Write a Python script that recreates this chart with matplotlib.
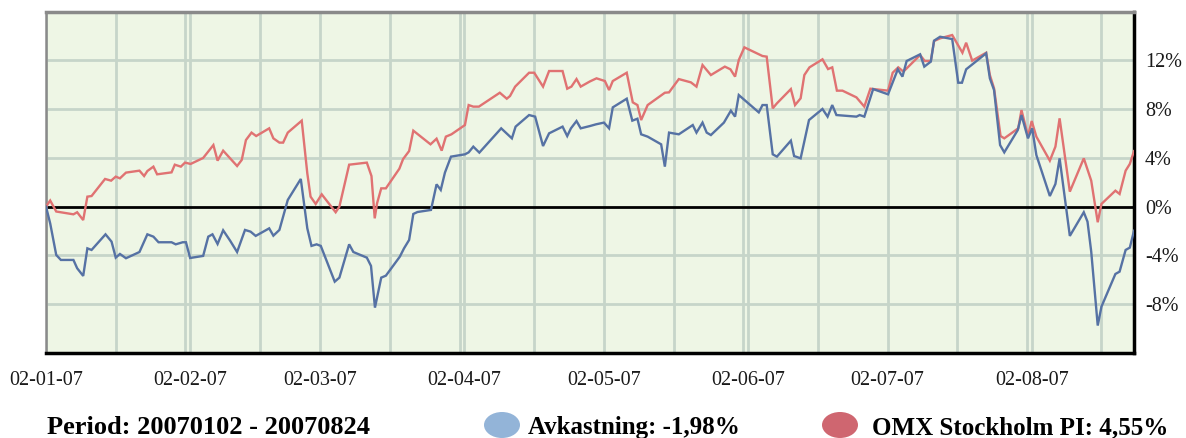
import matplotlib
matplotlib.use("Agg")
import matplotlib.pyplot as plt
import matplotlib.dates as mdates
from matplotlib.patches import Ellipse
import numpy as np
from datetime import datetime

# ---- data (days since 2007-01-02, value in %) ----
start_date = "2007-01-02"
omx_days = [0.0, 0.9, 2.2, 5.9, 6.7, 8.0, 8.9, 9.8, 12.7, 14.0, 15.0, 15.9, 17.2, 20.1, 21.1, 21.8,
            23.1, 23.9, 27.0, 27.7, 29.0, 29.9, 31.1, 33.8, 36.0, 36.9, 38.1, 41.1, 42.1, 43.0, 44.2,
            45.2, 48.0, 48.9, 50.2, 51.0, 52.0, 55.0, 56.2, 56.9, 58.0, 59.3, 62.3, 63.1, 65.2, 69.0,
            70.0, 70.7, 71.2, 72.1, 73.1, 76.0, 76.8, 78.1, 79.0, 82.7, 84.0, 85.1, 86.0, 87.2, 90.1,
            90.9, 91.9, 93.1, 97.6, 99.1, 99.8, 100.9, 103.9, 105.0, 106.9, 108.2, 111.1, 112.1, 113.0,
            114.1, 115.0, 117.0, 118.4, 120.2, 121.1, 121.9, 124.9, 126.2, 127.2, 128.0, 129.4, 133.1,
            134.0, 136.1, 138.7, 139.9, 141.2, 143.0, 146.0, 147.2, 148.2, 149.0, 150.2, 154.1, 155.0,
            156.3, 157.2, 160.2, 161.1, 162.3, 163.1, 164.2, 167.0, 168.2, 169.1, 170.1, 171.3, 174.3,
            176.0, 177.3, 181.1, 182.1, 183.3, 184.4, 188.0, 189.0, 190.3, 191.0, 192.3, 194.9, 197.1,
            197.9, 199.2, 202.2, 203.0, 203.9, 205.3, 206.1, 209.1, 209.8, 211.2, 212.0, 213.0, 215.9,
            217.1, 218.0, 220.2, 223.2, 224.8, 226.2, 227.0, 230.0, 230.9, 232.2, 233.1, 234.0]
omx_vals = [0.0, 0.5, -0.4, -0.63, -0.46, -1.1, 0.82, 0.87, 2.27, 2.13, 2.46, 2.32, 2.79, 2.95, 2.51, 2.92,
            3.28, 2.65, 2.81, 3.44, 3.28, 3.61, 3.5, 3.99, 5.05, 3.77, 4.59, 3.33, 3.83, 5.46, 6.07,
            5.79, 6.42, 5.6, 5.25, 5.25, 6.07, 7.05, 2.73, 0.82, 0.22, 1.01, -0.46, 0.0, 3.44, 3.61,
            2.51, -0.96, 0.27, 1.5, 1.5, 3.11, 3.9, 4.56, 6.23, 5.11, 5.57, 4.59, 5.74, 5.93, 6.69,
            8.33, 8.2, 8.2, 9.34, 8.85, 9.07, 9.84, 10.98, 10.98, 9.84, 11.12, 11.12, 9.67, 9.84,
            10.46, 9.84, 10.27, 10.52, 10.3, 9.56, 10.3, 10.98, 8.55, 8.33, 7.1, 8.33, 9.34,
            9.37, 10.46, 10.19, 9.84, 11.61, 10.79, 11.48, 11.26, 10.66, 12.02, 13.06, 12.35, 12.3,
            8.06, 8.47, 9.64, 8.33, 8.88, 10.79, 11.42, 12.08, 11.28, 11.42, 9.51, 9.51, 8.96,
            8.2, 9.67, 9.51, 10.98, 11.42, 11.07, 12.43, 11.94, 11.94, 13.58, 13.8, 14.07, 12.62,
            13.44, 11.97, 12.62, 10.79, 9.7, 5.79, 5.6, 6.42, 7.92, 5.79, 7.02, 5.74, 3.77,
            4.92, 7.24, 1.23, 3.96, 2.13, -1.28, 0.22, 1.31, 1.04, 2.95, 3.5, 4.55]

avk_days = [0.0, 0.9, 2.2, 3.2, 5.9, 6.7, 8.0, 8.9, 9.8, 12.8, 14.1, 15.0, 15.9, 17.2, 20.1, 21.8,
            23.1, 24.2, 27.0, 27.9, 29.4, 30.1, 31.0, 33.8, 34.9, 35.8, 36.9, 38.1, 39.6, 41.1, 42.8,
            44.0, 45.1, 48.0, 48.9, 50.2, 51.0, 52.0, 54.8, 55.5, 56.2, 57.1, 58.2, 59.1, 62.1, 63.1,
            65.2, 66.1, 69.0, 69.9, 70.75, 72.1, 73.1, 76.1, 77.0, 78.1, 79.0, 79.9, 82.8, 84.0, 84.9,
            85.8, 87.1, 90.1, 90.9, 91.9, 93.2, 97.9, 100.2, 101.0, 103.9, 105.2, 106.9, 108.2, 111.1,
            112.1, 112.9, 114.1, 115.0, 117.0, 118.3, 120.0, 121.1, 121.9, 124.9, 126.1, 127.2, 128.0,
            129.4, 132.3, 133.1, 134.0, 136.1, 139.1, 139.9, 141.2, 142.1, 143.0, 145.8, 147.3, 148.2,
            149.0, 153.3, 154.1, 155.0, 156.3, 157.2, 160.2, 160.9, 162.3, 164.1, 167.0, 168.1, 169.1,
            170.0, 174.3, 175.0, 176.0, 177.9, 181.1, 183.2, 184.2, 185.1, 188.0, 188.9, 190.3, 191.0,
            192.3, 194.9, 196.2, 197.0, 197.9, 202.2, 203.0, 203.9, 205.2, 206.1, 209.0, 209.8, 211.2,
            212.1, 213.0, 215.9, 217.1, 218.0, 220.2, 223.2, 224.0, 224.8, 226.2, 227.0, 230.0, 230.9,
            232.2, 233.1, 234.0]
avk_vals = [0.0, -1.37, -3.96, -4.37, -4.37, -5.05, -5.68, -3.42, -3.55, -2.27, -2.87, -4.18, -3.88, -4.23, -3.72, -2.27,
            -2.46, -2.92, -2.92, -3.09, -2.92, -2.92, -4.21, -4.04, -2.46, -2.27, -3.06, -1.94, -2.79, -3.72, -1.91,
            -2.05, -2.4, -1.78, -2.38, -1.91, -0.82, 0.55, 2.27, 0.27, -1.78, -3.22, -3.09, -3.22, -6.15, -5.82,
            -3.09, -3.72, -4.18, -4.86, -8.28, -5.82, -5.66, -4.1, -3.42, -2.73, -0.6, -0.44, -0.27, 1.83, 1.37,
            2.79, 4.1, 4.29, 4.45, 4.92, 4.43, 6.42, 5.6, 6.56, 7.51, 7.38, 4.97, 6.01, 6.56,
            5.79, 6.42, 7.02, 6.42, 6.61, 6.75, 6.89, 6.42, 8.14, 8.85, 7.05, 7.21, 5.93,
            5.74, 5.11, 3.28, 6.07, 5.93, 6.69, 6.07, 6.89, 6.07, 5.87, 6.89, 7.87, 7.38,
            9.15, 7.73, 8.33, 8.33, 4.29, 4.1, 5.41, 4.15, 3.96, 7.1, 8.01, 7.38, 8.33,
            7.51, 7.38, 7.51, 7.38, 9.64, 9.21, 11.26, 10.66, 11.94, 12.49, 11.48, 11.89, 13.61,
            13.93, 13.74, 10.16, 10.16, 11.26, 12.57, 10.52, 9.56, 5.05, 4.45, 6.28, 7.51, 5.6,
            6.42, 4.23, 0.87, 1.86, 3.96, -2.4, -0.46, -1.23, -3.69, -9.75, -8.2, -5.52, -5.33,
            -3.55, -3.36, -1.98]

label_dates = ["2007-01-02", "2007-02-02", "2007-03-02", "2007-04-02", "2007-05-02",
               "2007-06-02", "2007-07-02", "2007-08-02"]
label_texts = ["02-01-07", "02-02-07", "02-03-07", "02-04-07", "02-05-07",
               "02-06-07", "02-07-07", "02-08-07"]
extra_grid_dates = ["2007-01-17", "2007-02-01", "2007-02-17", "2007-03-17", "2007-04-01",
                    "2007-04-17", "2007-05-17", "2007-06-01", "2007-06-17", "2007-07-17",
                    "2007-08-01", "2007-08-17"]
end_date = "2007-08-24"
y_ticks = [-8, -4, 0, 4, 8, 12]
y_labels = ["-8%", "-4%", "0%", "4%", "8%", "12%"]
period_text = "Period: 20070102 - 20070824"
avk_label = "Avkastning: -1,98%"
omx_label = "OMX Stockholm PI: 4,55%"

# ---- figure ----
W, H = 1186, 438
fig = plt.figure(figsize=(W / 100, H / 100), dpi=100)
plt.rcParams['font.family'] = ['Liberation Serif', 'DejaVu Serif']

ax_left, ax_right, ax_top, ax_bot = 46, 1134, 11.5, 353
ax = fig.add_axes([ax_left / W, (H - ax_bot) / H, (ax_right - ax_left) / W, (ax_bot - ax_top) / H])
ax.set_facecolor("#eef6e5")

d0 = mdates.date2num(datetime.strptime(start_date, "%Y-%m-%d"))
x_omx = d0 + np.array(omx_days)
x_avk = d0 + np.array(avk_days)

grid_col = "#c6d5c9"
for ds in label_dates + extra_grid_dates:
    xv = mdates.date2num(datetime.strptime(ds, "%Y-%m-%d"))
    ax.axvline(xv, color=grid_col, lw=2.0, zorder=1)
for yv in y_ticks + [16]:
    if yv != 0:
        ax.axhline(yv, color=grid_col, lw=2.0, zorder=1)
ax.axhline(0, color="black", lw=2.0, zorder=2)

ax.plot(x_omx, omx_vals, color="#e07272", lw=1.7, zorder=3, solid_joinstyle="miter")
ax.plot(x_avk, avk_vals, color="#5672a4", lw=1.7, zorder=4, solid_joinstyle="miter")

ax.set_xlim(d0, mdates.date2num(datetime.strptime(end_date, "%Y-%m-%d")))
ax.set_ylim(-12, 16)

ax.set_xticks([mdates.date2num(datetime.strptime(d, "%Y-%m-%d")) for d in label_dates])
ax.set_xticklabels(label_texts)
ax.set_yticks(y_ticks)
ax.set_yticklabels(y_labels)
ax.yaxis.tick_right()
ax.tick_params(axis="both", length=0, labelsize=14.5, colors="#1a1a1a")
ax.tick_params(axis="x", pad=13)
ax.tick_params(axis="y", pad=8)

ax.spines["top"].set_color("#8a8a8a")
ax.spines["top"].set_linewidth(2.5)
ax.spines["left"].set_color("#8a8a8a")
ax.spines["left"].set_linewidth(1.8)
ax.spines["bottom"].set_color("black")
ax.spines["bottom"].set_linewidth(2.5)
ax.spines["right"].set_color("black")
ax.spines["right"].set_linewidth(2.5)

# ---- bottom legend ----
base_y = (H - 434) / H
fig.text(47 / W, base_y, period_text, fontsize=19, fontweight="bold", ha="left", va="baseline")
fig.add_artist(Ellipse((502 / W, (H - 425) / H), 36 / W, 26 / H, transform=fig.transFigure,
                       facecolor="#93b4d8", edgecolor="none"))
fig.text(528 / W, base_y, avk_label, fontsize=18, fontweight="bold", ha="left", va="baseline")
fig.add_artist(Ellipse((840 / W, (H - 425) / H), 36 / W, 26 / H, transform=fig.transFigure,
                       facecolor="#cf6670", edgecolor="none"))
fig.text(872 / W, base_y, omx_label, fontsize=18, fontweight="bold", ha="left", va="baseline")

fig.savefig("out.png", dpi=100)
